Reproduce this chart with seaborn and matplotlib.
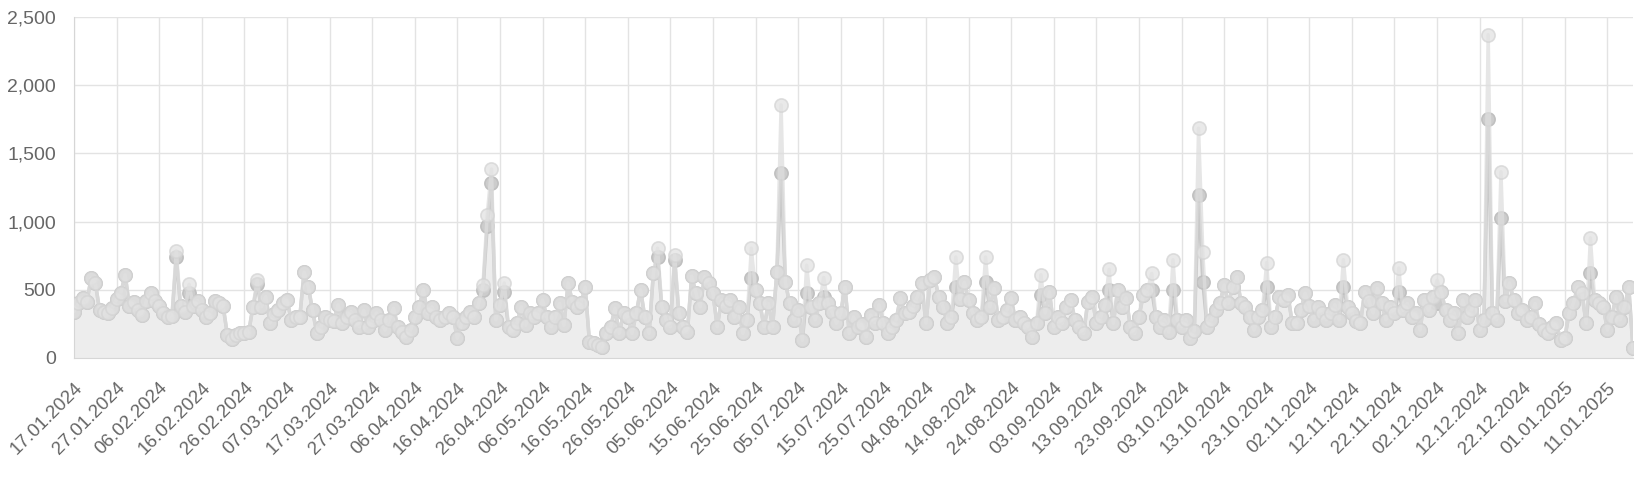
import matplotlib
matplotlib.use("Agg")
import matplotlib.pyplot as plt
import matplotlib.ticker as mticker
import matplotlib.transforms as mtransforms
import seaborn as sns
import pandas as pd

# daily values, starting 17.01.2024
start_date = "2024-01-17"
visits = [
    340, 400, 440, 410, 585, 550, 350, 340, 330, 370,
    430, 480, 610, 380, 410, 350, 315, 420, 480, 420,
    380, 330, 300, 310, 740, 380, 340, 480, 380, 420,
    350, 300, 330, 420, 400, 380, 170, 140, 170, 180,
    185, 190, 375, 540, 375, 450, 255, 320, 350, 400,
    425, 280, 300, 300, 630, 520, 350, 180, 230, 300,
    280, 270, 390, 255, 300, 340, 280, 230, 350, 230,
    270, 330, 280, 205, 280, 365, 230, 190, 155, 205,
    300, 375, 500, 330, 375, 300, 280, 300, 330, 300,
    145, 255, 300, 340, 300, 400, 500, 970, 1280, 280,
    390, 485, 230, 205, 260, 375, 240, 330, 300, 330,
    425, 300, 230, 300, 400, 240, 550, 410, 375, 400,
    520, 120, 110, 95, 80, 180, 230, 365, 180, 330,
    300, 180, 330, 500, 300, 180, 620, 740, 375, 280,
    230, 720, 330, 230, 190, 600, 475, 375, 595, 550,
    475, 230, 425, 380, 425, 300, 375, 180, 280, 590,
    500, 400, 230, 400, 230, 630, 1355, 555, 400, 280,
    350, 130, 475, 375, 280, 400, 450, 400, 335, 255,
    330, 520, 180, 300, 230, 250, 155, 315, 260, 390,
    255, 180, 230, 280, 440, 330, 335, 380, 450, 550,
    255, 570, 595, 450, 375, 255, 300, 520, 430, 555,
    425, 330, 280, 300, 555, 375, 510, 280, 300, 350,
    440, 280, 300, 260, 230, 155, 260, 460, 330, 485,
    230, 300, 255, 375, 425, 280, 230, 180, 410, 450,
    255, 300, 390, 500, 255, 500, 375, 440, 230, 180,
    300, 460, 500, 500, 300, 230, 280, 190, 500, 280,
    230, 280, 145, 200, 1195, 560, 230, 280, 350, 400,
    535, 400, 520, 595, 400, 375, 300, 205, 300, 350,
    520, 230, 300, 450, 425, 460, 255, 255, 350, 475,
    380, 280, 375, 330, 280, 330, 390, 280, 520, 375,
    330, 270, 255, 485, 420, 330, 510, 400, 280, 375,
    330, 485, 350, 400, 300, 330, 205, 425, 350, 450,
    400, 485, 350, 280, 330, 180, 425, 300, 350, 425,
    205, 280, 1750, 330, 280, 1030, 420, 550, 425, 330,
    350, 280, 300, 400, 250, 205, 180, 230, 255, 130,
    150, 330, 400, 520, 475, 255, 620, 425, 400, 375,
    205, 300, 450, 280, 375, 520, 70,
]

# days where the second (lighter) series goes above the first one
peak_visits = {
    "10.02.2024": 785, "13.02.2024": 540, "29.02.2024": 570,
    "22.04.2024": 535, "23.04.2024": 1050, "24.04.2024": 1385,
    "27.04.2024": 550, "02.06.2024": 805, "06.06.2024": 755,
    "24.06.2024": 805, "01.07.2024": 1855, "07.07.2024": 680,
    "11.07.2024": 590, "11.08.2024": 740, "18.08.2024": 740,
    "31.08.2024": 610, "16.09.2024": 650, "26.09.2024": 620,
    "01.10.2024": 720, "07.10.2024": 1685, "08.10.2024": 775,
    "23.10.2024": 700, "10.11.2024": 720, "23.11.2024": 660,
    "02.12.2024": 570, "14.12.2024": 2370, "17.12.2024": 1365,
    "07.01.2025": 880,
}

dates = pd.date_range(start_date, periods=len(visits), freq="D")
df = pd.DataFrame({"date": dates, "main": visits})
df["peak"] = df["main"]
for day, value in peak_visits.items():
    df.loc[df["date"] == pd.to_datetime(day, format="%d.%m.%Y"), "peak"] = value

sns.set_style("white")
plt.rcParams["font.family"] = ["Liberation Sans", "DejaVu Sans"]

fig = plt.figure(figsize=(16.49, 4.83), dpi=100)
ax = fig.add_axes([0.0449, 0.2588, 0.9454, 0.706])

ax.fill_between(df["date"], df["main"], color="#ededed", linewidth=0, zorder=1)
sns.lineplot(data=df, x="date", y="main", ax=ax, color="#c8c8c8", linewidth=2.5,
             marker="o", markersize=9.5, markerfacecolor="#cccccc",
             markeredgecolor="#c0c0c0", markeredgewidth=1.2, zorder=3)
sns.lineplot(data=df, x="date", y="peak", ax=ax, color="#dedede", linewidth=2.5,
             alpha=0.75, marker="o", markersize=9.5, markerfacecolor="#e2e2e2",
             markeredgecolor="#d4d4d4", markeredgewidth=1.2, zorder=4)

xticks = pd.date_range(start_date, dates[-1], freq="10D")
ax.set_xticks(xticks)
ax.set_xticklabels([d.strftime("%d.%m.%Y") for d in xticks], rotation=45,
                   ha="right", va="top", rotation_mode="anchor", fontsize=13.5)
offset = mtransforms.ScaledTranslation(0.1, -0.12, fig.dpi_scale_trans)
for lbl in ax.get_xticklabels():
    lbl.set_transform(lbl.get_transform() + offset)

ax.set_xlim(dates[0], dates[-1])
ax.set_ylim(0, 2500)
ax.yaxis.set_major_locator(mticker.MultipleLocator(500))
ax.yaxis.set_major_formatter(mticker.FuncFormatter(lambda v, p: f"{int(v):,}"))
ax.tick_params(axis="y", labelsize=14, pad=6)
ax.tick_params(length=7, width=1, color="#e3e3e3", labelcolor="#666666")
ax.tick_params(axis="x", pad=8)

ax.grid(True, color="#e3e3e3", linewidth=1)
ax.set_axisbelow(True)
for side in ["top", "right"]:
    ax.spines[side].set_visible(False)
for side in ["left", "bottom"]:
    ax.spines[side].set_color("#d6d6d6")
ax.set_xlabel("")
ax.set_ylabel("")

fig.savefig("out.png", dpi=100)
